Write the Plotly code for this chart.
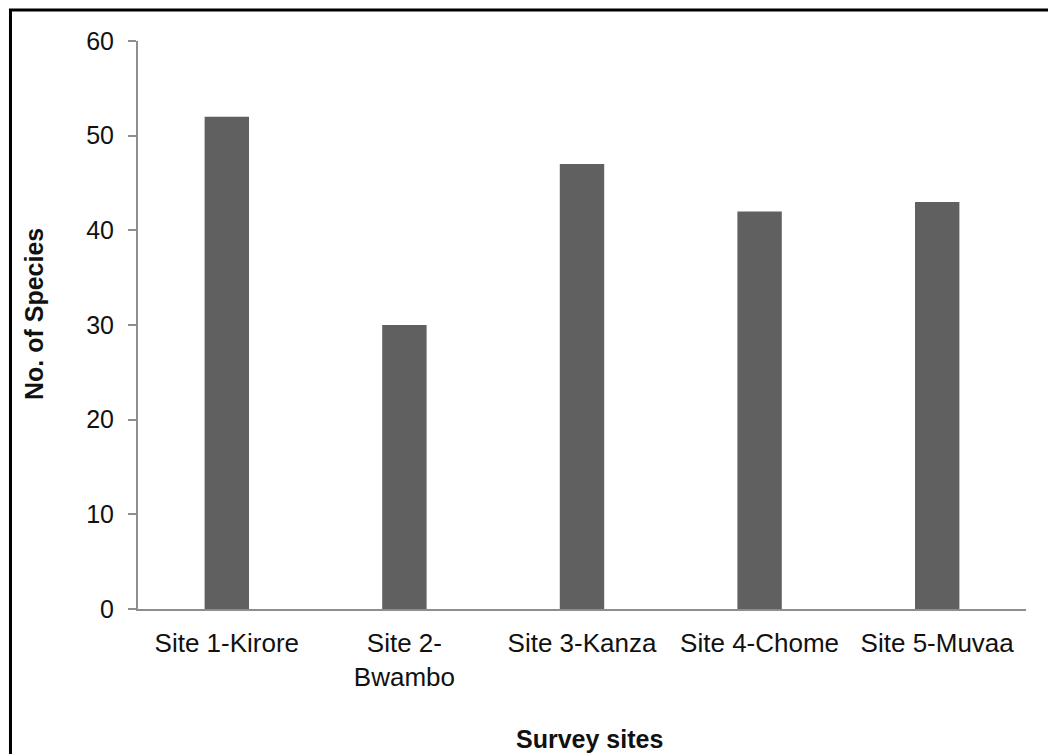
import plotly.graph_objects as go

sites = ["Site 1-Kirore", "Site 2-<br>Bwambo", "Site 3-Kanza", "Site 4-Chome", "Site 5-Muvaa"]
species = [52, 30, 47, 42, 43]
y_ticks = [0, 10, 20, 30, 40, 50, 60]

FONT = "Liberation Sans, Arial, Helvetica, sans-serif"

fig = go.Figure(go.Bar(
    x=sites, y=species,
    marker=dict(color="#606060", line=dict(width=0)),
    width=0.25,
))

fig.update_layout(
    width=1048, height=754,
    margin=dict(l=138, r=22, t=41, b=145),
    paper_bgcolor="white", plot_bgcolor="white",
    font=dict(family=FONT, color="#111111"),
    showlegend=False,
    xaxis=dict(
        showline=True, linecolor="#8e8e8e", linewidth=2,
        showgrid=False, ticks="", tickfont=dict(size=26, family=FONT, color="#111111"),
        ticklabelstandoff=10,
    ),
    yaxis=dict(
        range=[0, 60], tickvals=y_ticks, showline=True, linecolor="#8e8e8e", linewidth=2,
        showgrid=False, ticks="outside", ticklen=8, tickwidth=2, tickcolor="#8e8e8e",
        tickfont=dict(size=25, family=FONT, color="#111111"), ticklabelstandoff=9,
        zeroline=False,
    ),
    shapes=[dict(type="rect", xref="paper", yref="paper",
                 x0=-0.1436, x1=1.1, y0=-0.4, y1=1.0546,
                 line=dict(color="black", width=3), fillcolor="rgba(0,0,0,0)")],
    annotations=[
        dict(text="<b>No. of Species</b>", xref="paper", yref="paper",
             x=(34 - 138) / 888, y=(609 - 314) / 568, textangle=-90, showarrow=False,
             xanchor="center", yanchor="middle", font=dict(size=25, family=FONT, color="#111111")),
        dict(text="<b>Survey sites</b>", xref="paper", yref="paper",
             x=(589 - 138) / 888, y=(609 - 739) / 568, showarrow=False,
             xanchor="center", yanchor="middle", font=dict(size=25, family=FONT, color="#111111")),
    ],
)

fig.write_html("out.html")
